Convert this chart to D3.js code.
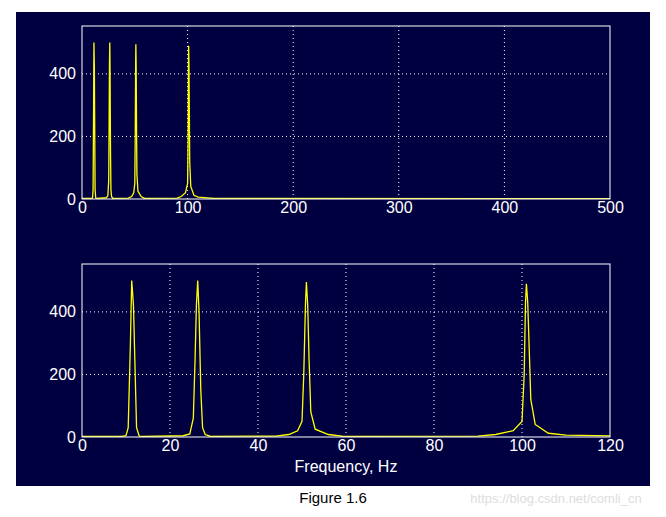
<!DOCTYPE html>
<html><head><meta charset="utf-8">
<script src="https://cdn.jsdelivr.net/npm/d3@7"></script>
<style>body{margin:0;background:#fff}</style>
</head><body>
<svg id="chart" width="666" height="517"></svg>
<script>
// spectrum samples: [frequency Hz, magnitude]
const peak11 = [[0,2],[9,2],[10,4],[10.5,30],[11,300],[11.3,500],[11.7,420],[12,250],[12.4,30],[13,3],[14,2]];
const peak26 = [[14,2],[23,4],[24.5,10],[25.3,60],[25.7,250],[26,420],[26.3,500],[26.6,400],[27,150],[27.4,30],[28,8],[29,3]];
const peak51 = [[29,2],[44,3],[47,8],[49,20],[50,50],[50.4,200],[50.8,430],[51,495],[51.3,420],[51.6,250],[52,80],[53,25],[56,8],[59,3]];
const peak101 = [[59,2],[90,3],[94,8],[98,20],[100,50],[100.5,200],[100.8,430],[101,490],[101.3,430],[101.6,300],[102,120],[103,40],[106,12],[110,6],[125,2],[500,1]];
const spectrum = [].concat(peak11, peak26, peak51, peak101);

const xTicksTop = [0, 100, 200, 300, 400, 500];
const xTicksBottom = [0, 20, 40, 60, 80, 100, 120];
const yTicks = [0, 200, 400];

const svg = d3.select("#chart");
const font = "'Liberation Sans Narrow', 'Liberation Sans', Arial, sans-serif";

svg.append("rect").attr("x", 16).attr("y", 12).attr("width", 634).attr("height", 474).attr("fill", "#000040");

function panel(top, xMax, xTicks, clipId) {
    const x = d3.scaleLinear().domain([0, xMax]).range([82, 610]);
    const y = d3.scaleLinear().domain([0, 553]).range([top + 173, top]);
    const g = svg.append("g");

    g.append("clipPath").attr("id", clipId).append("rect")
        .attr("x", 82).attr("y", top).attr("width", 528).attr("height", 173);

    // grid
    g.selectAll(".vg").data(xTicks.slice(1, -1)).enter().append("line")
        .attr("x1", d => x(d)).attr("x2", d => x(d)).attr("y1", top).attr("y2", top + 173)
        .attr("stroke", "#fff").attr("stroke-dasharray", "1,3");
    g.selectAll(".hg").data(yTicks.slice(1)).enter().append("line")
        .attr("x1", 82).attr("x2", 610).attr("y1", d => y(d)).attr("y2", d => y(d))
        .attr("stroke", "#fff").attr("stroke-dasharray", "1,3");

    g.append("path").datum(spectrum)
        .attr("clip-path", "url(#" + clipId + ")")
        .attr("fill", "none").attr("stroke", "#ffff00").attr("stroke-width", 1.3)
        .attr("d", d3.line().x(d => x(d[0])).y(d => y(d[1])));

    g.append("rect").attr("x", 82).attr("y", top).attr("width", 528).attr("height", 173)
        .attr("fill", "none").attr("stroke", "#fff");

    const xAxis = g.append("g").attr("transform", "translate(0," + (top + 173) + ")")
        .call(d3.axisBottom(x).tickValues(xTicks).tickSize(0).tickPadding(3).tickFormat(d3.format("d")));
    const yAxis = g.append("g").attr("transform", "translate(82,0)")
        .call(d3.axisLeft(y).tickValues(yTicks).tickSize(0).tickPadding(6).tickFormat(d3.format("d")));
    [xAxis, yAxis].forEach(a => {
        a.select(".domain").remove();
        a.selectAll("text").attr("fill", "#fff").style("font-family", font).style("font-size", "16px");
    });
    return g;
}

panel(26, 500, xTicksTop, "c1");
panel(264, 120, xTicksBottom, "c2");

svg.append("text").attr("x", 346).attr("y", 472).attr("text-anchor", "middle")
    .attr("fill", "#fff").style("font-family", font).style("font-size", "16px").text("Frequency, Hz");
svg.append("text").attr("x", 333).attr("y", 503).attr("text-anchor", "middle")
    .attr("fill", "#000").style("font-family", "'Liberation Sans', Arial, sans-serif").style("font-size", "15px").text("Figure 1.6");
svg.append("text").attr("x", 556).attr("y", 503).attr("text-anchor", "middle")
    .attr("fill", "#ddd").style("font-family", "'Liberation Sans', Arial, sans-serif").style("font-size", "13px").text("https://blog.csdn.net/comli_cn");
</script>
</body></html>
